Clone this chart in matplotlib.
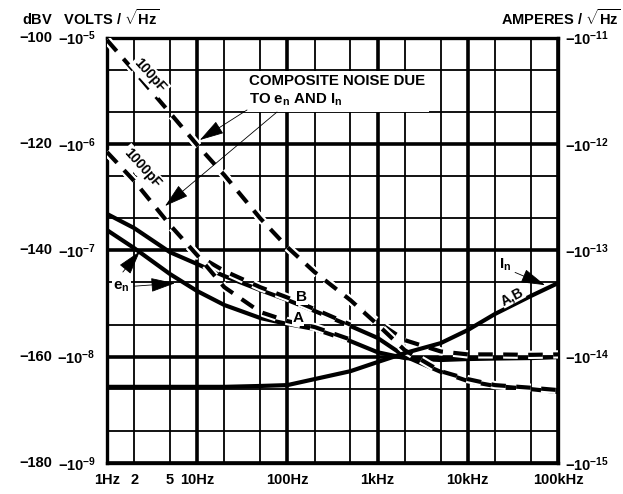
import matplotlib
matplotlib.use("Agg")
import matplotlib.pyplot as plt
import matplotlib.patheffects as pe
import matplotlib.transforms as mtrans
import matplotlib.ticker as mticker

plt.rcParams["font.family"] = "Liberation Sans"
plt.rcParams["font.weight"] = "bold"
plt.rcParams["mathtext.fontset"] = "custom"
plt.rcParams["mathtext.rm"] = "Liberation Sans:bold"
plt.rcParams["mathtext.it"] = "Liberation Sans:bold"
plt.rcParams["mathtext.bf"] = "Liberation Sans:bold"
plt.rcParams["mathtext.default"] = "rm"

# frequency points (Hz)
freq = [1, 2, 5, 10, 20, 50, 100, 200, 500, 1e3, 2e3, 5e3, 1e4, 2e4, 5e4, 1e5]

# voltage noise e_n (V/rtHz)
en_a = [1.55e-7, 1.05e-7, 5.98e-8, 4.14e-8, 3.06e-8, 2.31e-8, 2.03e-8, 1.82e-8,
        1.40e-8, 1.10e-8, 9.7e-9, 9.3e-9, 9.5e-9, 9.6e-9, 9.7e-9, 9.9e-9]
en_b = [2.2e-7, 1.62e-7, 9.6e-8, 7.43e-8, 5.73e-8, 4.23e-8, 3.41e-8, 2.69e-8,
        1.94e-8, 1.50e-8, 1.01e-8, 7.2e-9, 5.9e-9, 5.3e-9, 4.95e-9, 4.65e-9]

# current noise I_n (A/rtHz)
in_ab = [5.2e-15, 5.2e-15, 5.2e-15, 5.2e-15, 5.2e-15, 5.3e-15, 5.4e-15, 6.15e-15,
         7.3e-15, 8.9e-15, 1.08e-14, 1.34e-14, 1.78e-14, 2.52e-14, 3.72e-14, 4.92e-14]

# composite noise, 100pF source
comp100_hi = [9.5e-6, 4.86e-6, 1.96e-6, 9.8e-7, 5.1e-7, 2.0e-7, 1.07e-7, 6.25e-8,
              3.4e-8, 2.12e-8, 1.43e-8, 1.12e-8, 1.05e-8, 1.05e-8, 1.04e-8, 1.05e-8]
comp100_lo = [9.5e-6, 4.86e-6, 1.96e-6, 9.8e-7, 5.1e-7, 2.0e-7, 1.07e-7, 6.25e-8,
              3.4e-8, 2.0e-8, 1.15e-8, 7.3e-9, 6.15e-9, 5.4e-9, 5.1e-9, 4.85e-9]

# composite noise, 1000pF source
freq_1n = [1, 2, 5, 10, 20, 50, 100, 200, 500]
comp1n_hi = [8.4e-7, 4.5e-7, 1.73e-7, 9.0e-8, 6.4e-8, 4.5e-8, 3.6e-8, 2.8e-8, 2.0e-8]
comp1n_lo = [8.4e-7, 4.5e-7, 1.73e-7, 9.0e-8, 4.5e-8, 2.63e-8, 2.16e-8, 1.9e-8, 1.45e-8]

x_major = [1, 10, 100, 1e3, 1e4, 1e5]
x_labels = ["1Hz", "10Hz", "100Hz", "1kHz", "10kHz", "100kHz"]
x_minor = [2, 5, 20, 50, 200, 500, 2e3, 5e3, 2e4, 5e4]
x_minor_labels = ["2", "5", "", "", "", "", "", "", "", ""]

y_major = [1e-9, 1e-8, 1e-7, 1e-6, 1e-5]
y_labels = [r"$-10^{-9}$", r"$-10^{-8}$", r"$-10^{-7}$", r"$-10^{-6}$", r"$-10^{-5}$"]
dbv_labels = ["\u2212180", "\u2212160", "\u2212140", "\u2212120", "\u2212100"]
y_minor = [2e-9, 5e-9, 2e-8, 5e-8, 2e-7, 5e-7, 2e-6, 5e-6]

amp_major = [1e-15, 1e-14, 1e-13, 1e-12, 1e-11]
amp_labels = [r"$-10^{-15}$", r"$-10^{-14}$", r"$-10^{-13}$", r"$-10^{-12}$", r"$-10^{-11}$"]

fig = plt.figure(figsize=(6.23, 4.94), dpi=100)
ax = fig.add_axes([0.1717, 0.0628, 0.724, 0.8609])
ax.set_xscale("log")
ax.set_yscale("log")
ax.set_xlim(1, 1e5)
ax.set_ylim(1e-9, 1e-5)

# twin axis for amperes (made first so it does not reset the shared x ticks later)
ax2 = ax.twinx()
ax2.set_yscale("log")
ax2.set_ylim(1e-15, 1e-11)
ax2.set_yticks(amp_major)
ax2.set_yticklabels(amp_labels)
ax2.yaxis.set_minor_locator(mticker.NullLocator())
ax2.tick_params(axis="y", length=0, labelsize=10.5, pad=5)
for s in ax2.spines.values():
    s.set_visible(False)

ax.set_xticks(x_major)
ax.set_xticklabels(x_labels)
ax.set_xticks(x_minor, minor=True)
ax.set_xticklabels(x_minor_labels, minor=True)
ax.set_yticks(y_major)
ax.set_yticklabels(y_labels)
ax.set_yticks(y_minor, minor=True)
ax.set_yticklabels([""] * len(y_minor), minor=True)
ax.tick_params(which="both", length=0, labelsize=10.5)
ax.tick_params(axis="x", which="both", pad=7)
ax.tick_params(axis="y", which="both", pad=8)

ax.set_axisbelow(True)
ax.grid(which="major", color="black", lw=2.6)
ax.grid(which="minor", color="black", lw=1.3)
for s in ax.spines.values():
    s.set_linewidth(2.4)

# dBV column
tr = mtrans.blended_transform_factory(ax.transAxes, ax.transData)
for v, lab in zip(y_major, dbv_labels):
    ax.text(-0.122, v, lab, transform=tr, ha="right", va="center", fontsize=10.5)

# e_n curves
ax.plot(freq, en_a, color="black", lw=3, zorder=3, solid_capstyle="butt")
ax.plot(freq, en_b, color="black", lw=3, zorder=3, solid_capstyle="butt")

# composite curves (dashed with white halo)
halo = [pe.Stroke(linewidth=6, foreground="white"), pe.Normal()]
for xs, ys in [(freq, comp100_hi), (freq, comp100_lo),
               (freq_1n, comp1n_hi), (freq_1n, comp1n_lo)]:
    ax.plot(xs, ys, color="black", lw=3, ls=(0, (3.5, 2.5)), zorder=4,
            dash_capstyle="butt", path_effects=halo)

box = dict(facecolor="white", edgecolor="none", pad=1.5)
ax.text(3.0, 4.4e-6, "100pF", rotation=-48, ha="center", va="center",
        fontsize=10, bbox=box, zorder=5)
ax.text(2.45, 5.9e-7, "1000pF", rotation=-48, ha="center", va="center",
        fontsize=10, bbox=box, zorder=5)
ax.text(37.5, 4.6e-6, "COMPOSITE NOISE DUE\nTO e$_{n}$ AND I$_{n}$", ha="left",
        va="top", fontsize=10.8, linespacing=1.35,
        bbox=dict(facecolor="white", edgecolor="none", pad=3), zorder=5)

arrow = dict(arrowstyle="-|>,head_length=1.1,head_width=0.32", color="black",
             lw=0.6, mutation_scale=14, shrinkA=0, shrinkB=0)
ax.annotate("", xy=(10.7, 1.09e-6), xytext=(35.7, 2.09e-6), arrowprops=arrow, zorder=6)
ax.annotate("", xy=(4.4, 2.61e-7), xytext=(76.7, 2.0e-6), arrowprops=arrow, zorder=6)

# e_n label and arrows
ax.text(1.45, 4.5e-8, "e$_{n}$", ha="center", va="center", fontsize=11,
        bbox=dict(facecolor="white", edgecolor="none", pad=1), zorder=5)
ax.annotate("", xy=(5.67, 4.9e-8), xytext=(2.0, 4.6e-8), arrowprops=arrow, zorder=6)
ax.annotate("", xy=(2.32, 9.8e-8), xytext=(1.5, 6.25e-8), arrowprops=arrow, zorder=6)

ax.text(145, 3.64e-8, "B", ha="center", va="center", fontsize=11,
        bbox=dict(facecolor="white", edgecolor="none", pad=0.5), zorder=5)
ax.text(131, 2.31e-8, "A", ha="center", va="center", fontsize=11,
        bbox=dict(facecolor="white", edgecolor="none", pad=0.5), zorder=5)

# current noise on amperes axis
ax2.plot(freq, in_ab, color="black", lw=3, zorder=3, solid_capstyle="butt")
ax2.text(2.58e4, 7.24e-14, "I$_{n}$", ha="center", va="center", fontsize=11,
         bbox=dict(facecolor="white", edgecolor="none", pad=0.5), zorder=5)
ax2.annotate("", xy=(7.18e4, 4.71e-14), xytext=(3.34e4, 6.2e-14), arrowprops=arrow, zorder=6)
ax2.text(3.09e4, 3.7e-14, "A,B", rotation=28, ha="center", va="center", fontsize=10,
         bbox=dict(facecolor="white", edgecolor="none", pad=0.3), zorder=5)

fig.text(22 / 623, 1 - 25 / 494, r"dBV   VOLTS / $\sqrt{\mathrm{Hz}}$", ha="left",
         va="baseline", fontsize=10.5)
fig.text(621 / 623, 1 - 25 / 494, r"AMPERES / $\sqrt{\mathrm{Hz}}$", ha="right",
         va="baseline", fontsize=10.5)

fig.savefig("out.png", dpi=100)
